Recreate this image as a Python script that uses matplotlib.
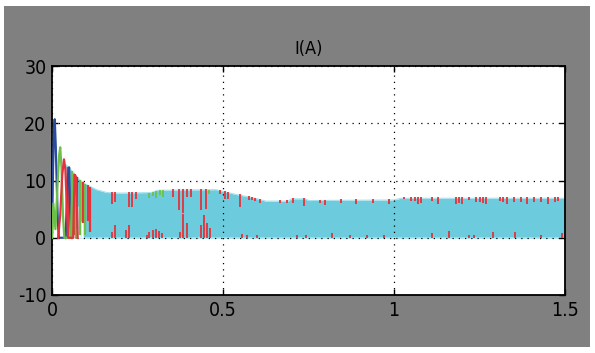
import numpy as np
import matplotlib
matplotlib.use('Agg')
import matplotlib.pyplot as plt
from matplotlib.patches import Rectangle

plt.rcParams['axes.unicode_minus'] = False

# envelope of the (cyan) dense current band
env_t = [0.04, 0.05, 0.065, 0.08, 0.095, 0.11, 0.13, 0.16, 0.2, 0.29, 0.31,
         0.48, 0.5, 0.535, 0.57, 0.6, 0.625, 0.69, 0.70, 0.74, 0.75, 1.0, 1.02, 1.5]
env_v = [12.8, 12.3, 11.2, 10.2, 9.5, 9.0, 8.4, 7.9, 7.8, 7.9, 8.3,
         8.4, 8.1, 7.6, 7.2, 6.8, 6.4, 6.4, 6.8, 6.8, 6.5, 6.6, 6.9, 6.9]

# start-up transient of the three phases
blue_t = [0.0, 0.003, 0.006, 0.008, 0.011, 0.014, 0.017, 0.02, 0.04, 0.045, 0.05, 0.055]
blue_v = [0.0, 12.0, 19.5, 20.7, 16.0, 9.0, 3.0, 0.0, 0.0, 10.0, 12.3, 0.0]
green_t = [0.0, 0.004, 0.01, 0.016, 0.021, 0.024, 0.028, 0.032, 0.036, 0.055, 0.06, 0.065, 0.07]
green_v = [0.0, 6.0, 1.5, 9.0, 14.5, 15.8, 12.0, 4.0, 0.0, 0.0, 11.0, 11.0, 0.0]
red_t = [0.018, 0.024, 0.03, 0.035, 0.039, 0.043, 0.047, 0.062, 0.066, 0.071, 0.075]
red_v = [0.0, 4.0, 11.0, 13.7, 12.0, 6.0, 0.0, 0.0, 11.0, 10.5, 0.0]

# coloured stripes inside the band during the transient
stripe_t = [0.048, 0.058, 0.066, 0.074, 0.082, 0.09, 0.097, 0.104, 0.112]
stripe_lo = [0.5, 0.5, 0.5, 1.5, 0.5, 2.5, 0.5, 3.0, 1.0]
stripe_c = ['r', 'g', 'r', 'b', 'g', 'r', 'g', 'r', 'r']
gap_t = [0.043, 0.053, 0.063, 0.071, 0.079, 0.087]
gap_hi = [6.0, 5.0, 7.5, 4.0, 5.5, 3.0]

# red notches hanging down from the top of the band (time, lowest value)
notch_t = [0.175, 0.185, 0.225, 0.235, 0.245, 0.355, 0.372, 0.384, 0.394, 0.405,
           0.435, 0.45, 0.49, 0.505, 0.515, 0.55, 0.575, 0.585, 0.595, 0.608,
           0.667, 0.686, 0.705, 0.737, 0.784, 0.797, 0.846, 0.89, 0.94, 0.985,
           1.03, 1.05, 1.06, 1.07, 1.08, 1.11, 1.13, 1.18, 1.19, 1.2, 1.22,
           1.24, 1.25, 1.26, 1.27, 1.31, 1.32, 1.33, 1.35, 1.37, 1.39, 1.41,
           1.43, 1.45, 1.47, 1.48]
notch_lo = [5.9, 6.2, 5.3, 5.4, 6.8, 7.1, 4.8, 4.4, 7.2, 7.2,
            4.8, 5.1, 7.6, 6.8, 6.8, 5.3, 6.6, 6.6, 6.4, 6.0,
            6.0, 6.0, 6.0, 5.6, 6.0, 5.7, 6.1, 5.9, 6.1, 5.9,
            6.7, 6.4, 6.4, 5.9, 6.1, 6.4, 5.9, 5.9, 6.1, 5.9, 6.6,
            6.3, 6.3, 6.1, 5.9, 6.4, 6.3, 5.9, 6.3, 6.3, 5.9, 6.3,
            6.3, 5.9, 6.2, 6.4]
green_notch_t = [0.285, 0.295, 0.305, 0.315, 0.325, 0.46, 0.52]
green_notch_lo = [7.0, 7.3, 7.0, 7.4, 7.2, 7.6, 7.8]

# red spikes rising from zero (time, highest value)
rise_t = [0.175, 0.183, 0.215, 0.225, 0.277, 0.285, 0.296, 0.304, 0.312, 0.322,
          0.374, 0.384, 0.394, 0.435, 0.444, 0.453, 0.462, 0.555, 0.57, 0.6,
          0.716, 0.743, 0.82, 0.87, 0.92, 0.97, 1.11, 1.16, 1.22, 1.235,
          1.29, 1.355, 1.43, 1.49]
rise_hi = [1.0, 2.2, 1.3, 2.2, 0.5, 1.0, 1.4, 1.6, 1.2, 0.9,
           1.0, 4.2, 2.5, 2.2, 3.9, 2.5, 1.7, 0.7, 0.4, 0.4,
           0.4, 0.4, 0.8, 0.4, 0.4, 0.4, 0.8, 1.1, 0.4, 0.4,
           1.0, 1.0, 0.4, 0.8]

cyan = '#6ccbdc'
colmap = {'r': '#e5323b', 'g': '#6cc04a', 'b': '#2b4c9e'}
font = dict(family=['DejaVu Sans'], stretch='condensed')

fig = plt.figure(figsize=(5.95, 3.53), dpi=100, facecolor='white')
fig.patches.append(Rectangle((4 / 595, 6 / 353), 586 / 595, 341 / 353,
                             transform=fig.transFigure, facecolor='#808080',
                             edgecolor='none', zorder=-10))
ax = fig.add_axes([52 / 595, 1 - 295 / 353, 513 / 595, 229 / 353])
ax.set_facecolor('white')

et = np.array(env_t)
ev = np.array(env_v)
ax.fill_between(et, 0, ev, color=cyan, lw=0, zorder=2)
ax.plot(et, ev, color='#a9e2ec', lw=0.8, zorder=2)
ax.plot([et[0], et[-1]], [0, 0], color='#a9e2ec', lw=1.2, zorder=2)

ax.vlines(gap_t, 0, gap_hi, color='white', lw=1.8, zorder=3)
for t, lo, c in zip(stripe_t, stripe_lo, stripe_c):
    ax.vlines(t, lo, np.interp(t, et, ev), color=colmap[c], lw=1.6, zorder=4)

ax.plot(blue_t, blue_v, color=colmap['b'], lw=1.6, zorder=5)
ax.plot(green_t, green_v, color=colmap['g'], lw=1.6, zorder=5)
ax.plot(red_t, red_v, color=colmap['r'], lw=1.6, zorder=5)

ax.vlines(green_notch_t, green_notch_lo, np.interp(green_notch_t, et, ev),
          color=colmap['g'], lw=1.3, zorder=4)
ax.vlines(notch_t, notch_lo, np.interp(notch_t, et, ev) + 0.15,
          color=colmap['r'], lw=1.3, zorder=4)
ax.vlines(rise_t, 0, rise_hi, color=colmap['r'], lw=1.3, zorder=4)

ax.set_xlim(0, 1.5)
ax.set_ylim(-10, 30)
ax.set_xticks([0, 0.5, 1, 1.5])
ax.set_xticklabels(['0', '0.5', '1', '1.5'])
ax.set_yticks([-10, 0, 10, 20, 30])
ax.grid(True, color='black', linestyle=(0, (1, 4)), linewidth=0.9)
ax.set_axisbelow(False)
ax.tick_params(direction='in', top=True, right=True, length=4, width=1,
               labelsize=14, colors='black', pad=4)
for s in ax.spines.values():
    s.set_linewidth(1.3)
for lab in ax.get_xticklabels() + ax.get_yticklabels():
    lab.set_fontfamily(font['family'])
    lab.set_fontstretch(font['stretch'])
ax.set_title('I(A)', fontsize=13, pad=9, **font)

fig.savefig('out.png', dpi=100, facecolor='white')
